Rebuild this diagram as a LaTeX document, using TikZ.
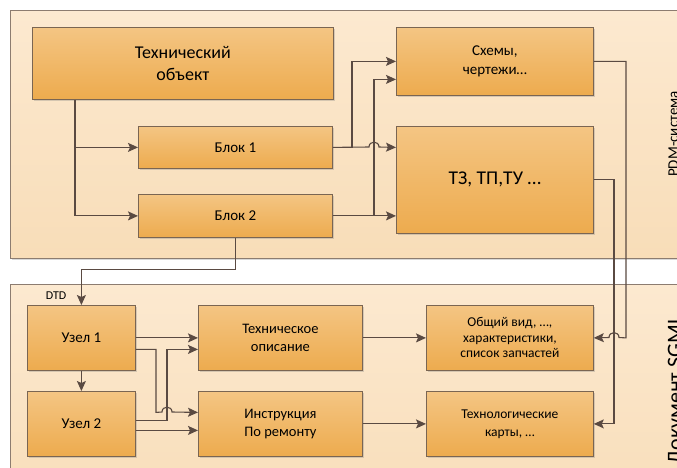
\documentclass[tikz,border=0pt]{standalone}
\usepackage{fontspec}
\setmainfont{Carlito}
\usetikzlibrary{shadows,arrows.meta,calc}

\definecolor{linec}{HTML}{5A4A42}
\definecolor{boxedge}{HTML}{7A6552}
\definecolor{boxtop}{HTML}{F4C583}
\definecolor{boxbot}{HTML}{EDAB4E}
\definecolor{paneltop}{HTML}{FCE9D0}
\definecolor{panelbot}{HTML}{F8DDB8}
\definecolor{paneledge}{HTML}{8C7C70}

\newcommand\fs[2]{\fontsize{#1}{#2}\selectfont}

\begin{document}
\begin{tikzpicture}[x=1pt,y=-1pt,
  panel/.style={draw=paneledge, line width=0.9pt, top color=paneltop, bottom color=panelbot,
    drop shadow={shadow xshift=1.5pt,shadow yshift=-2pt,opacity=0.3}},
  box/.style={draw=boxedge, line width=0.8pt, top color=boxtop, bottom color=boxbot,
    drop shadow={shadow xshift=2pt,shadow yshift=-2pt,opacity=0.3},
    anchor=north west, inner sep=0pt, align=center, text=black},
  conn/.style={draw=linec, line width=1.1pt, -{Stealth[length=10pt,width=9pt,inset=2pt]}},
]
\useasboundingbox (0,0) rectangle (677,467);
\clip (0,0) rectangle (677,467);
\fill[white] (0,0) rectangle (677,467);

% system panels
\path[panel] (10,10) rectangle (720,258);
\path[panel] (10,284) rectangle (720,520);

% PDM part
\node[box, minimum width=301pt, minimum height=72pt, font=\fs{18}{22}] (obj) at (32,27) {Технический\\объект};
\node[box, minimum width=194pt, minimum height=42pt, font=\fs{15}{18}] (b1) at (138,126) {Блок 1};
\node[box, minimum width=194pt, minimum height=43pt, font=\fs{15}{18}] (b2) at (138,194) {Блок 2};
\node[box, minimum width=197pt, minimum height=68pt, font=\fs{15}{19}] (sch) at (396,27) {Схемы,\\чертежи…};
\node[box, minimum width=197pt, minimum height=107pt, font=\fs{19.5}{22}] (tz) at (396,126) {ТЗ, ТП,ТУ …};

% SGML part
\node[box, minimum width=108pt, minimum height=65pt, font=\fs{15}{18}] (u1) at (27,305) {Узел 1};
\node[box, minimum width=108pt, minimum height=65pt, font=\fs{15}{18}] (u2) at (27,391) {Узел 2};
\node[box, minimum width=164pt, minimum height=65pt, font=\fs{14.5}{18}] (td) at (198,305) {Техническое\\описание};
\node[box, minimum width=164pt, minimum height=65pt, font=\fs{14.5}{18}] (ir) at (198,391) {Инструкция\\По ремонту};
\node[box, minimum width=167pt, minimum height=65pt, font=\fs{13.5}{15.5}] (ov) at (426,305) {Общий вид, …,\\характеристики,\\список запчастей};
\node[box, minimum width=167pt, minimum height=65pt, font=\fs{13.5}{18}] (tk) at (426,391) {Технологические\\карты, …};

% panel captions
\node[rotate=90, anchor=base, inner sep=0pt, font=\fs{15}{15}] (pdm) at (678,134) {PDM-система};
\node[rotate=90, anchor=base, inner sep=0pt, font=\fs{22}{22}] (sgml) at (682,390) {Документ SGML};
\node[inner sep=0pt, font=\fs{12}{12}] (dtd) at (56,296) {DTD};

% routing columns
\coordinate (c1) at (75,0);
\coordinate (j1) at (352,0);
\coordinate (j2) at (374,0);
\coordinate (r1) at (626,0);
\coordinate (r2) at (614,0);
\coordinate (k1) at (156,0);
\coordinate (k2) at (167,0);
\coordinate (sch2) at ($(sch.west)+(0,18)$);
\coordinate (u1b) at ($(u1.east)+(0,11.5)$);
\coordinate (tdB) at ($(td.west)+(0,11.5)$);
\coordinate (irA) at ($(ir.west)+(0,-11.5)$);
\coordinate (u2a) at ($(u2.east)+(0,-3.5)$);
\coordinate (irB) at ($(ir.west)+(0,6.5)$);

% object to blocks
\draw[conn] (obj.south -| c1) |- (b2.west);
\draw[conn] (c1 |- b1.west) -- (b1.west);

% blocks to documents
\draw[conn] (b1.east) -| (j1 |- sch.west) -- (sch.west);
\draw[conn] (b1.east) -- (369,147) .. controls (369,140.5) and (379,140.5) .. (379,147) -- (tz.west |- b1.east);
\draw[conn] (b2.east) -- (tz.west |- b2.east);
\draw[conn] (j2 |- b2.east) -- (j2 |- sch2) -- (sch2);

% block 2 to node 1
\draw[conn] (b2.south) -- ++(0,32) -| (u1.north);

% documents to SGML outputs
\draw[conn] (sch.east) -| (r1 |- ov.east) -- (619,337.5) .. controls (619,331) and (609,331) .. (609,337.5) -- (ov.east);
\draw[conn] (tz.east) -| (r2 |- tk.east) -- (tk.east);

% nodes to descriptions
\draw[conn] (u1.east) -- (td.west);
\draw[conn] (u1.south) -- (u2.north);
\draw[conn] (u1b) -| (k1 |- irA) -- (162,412) .. controls (162,405.5) and (172,405.5) .. (172,412) -- (irA);
\draw[conn] (u2a) -| (k2 |- tdB) -- (tdB);
\draw[conn] (u2.east |- irB) -- (irB);

% descriptions to outputs
\draw[conn] (td.east) -- (ov.west);
\draw[conn] (ir.east) -- (tk.west);
\end{tikzpicture}
\end{document}
